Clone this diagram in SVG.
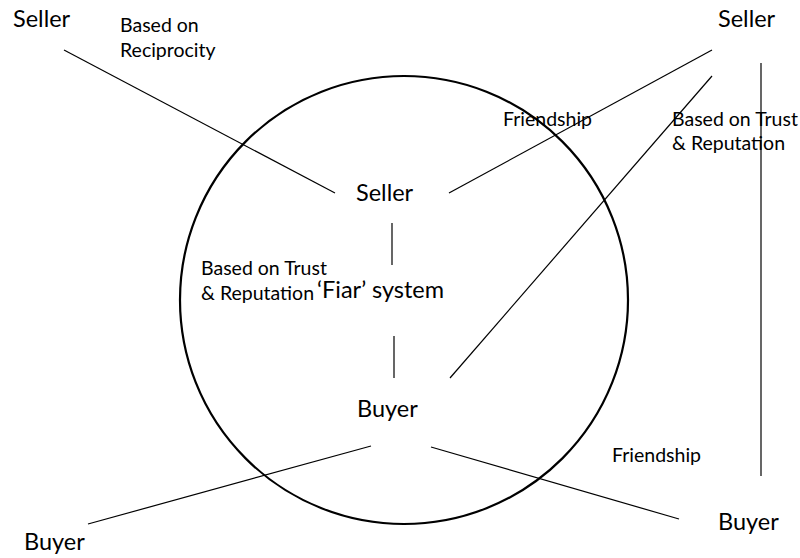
<svg xmlns="http://www.w3.org/2000/svg" width="800" height="558" viewBox="0 0 800 558">
  <style>
    .big { font-family: Lato, "Noto Sans", sans-serif; font-size: 23.5px; fill: #000; }
    .small { font-family: Lato, "Noto Sans", sans-serif; font-size: 19.5px; fill: #000; }
    .conn line { stroke: #000; stroke-width: 1.2; }
  </style>
  <rect width="800" height="558" fill="#fff"/>

  <!-- the 'Fiar' system boundary -->
  <g id="system">
    <circle cx="404" cy="300" r="224" fill="none" stroke="#000" stroke-width="2.2"/>
    <text class="big" x="317" y="298">‘Fiar’ system</text>
  </g>

  <!-- connectors -->
  <g class="conn" id="connectors">
    <line x1="64" y1="50" x2="335" y2="193"/>
    <line x1="449" y1="193" x2="712" y2="50"/>
    <line x1="712" y1="76" x2="450" y2="378"/>
    <line x1="761" y1="63" x2="761" y2="476"/>
    <line x1="392" y1="223" x2="392" y2="265"/>
    <line x1="394" y1="336" x2="394" y2="378"/>
    <line x1="371" y1="446" x2="88" y2="524"/>
    <line x1="431" y1="447" x2="679" y2="519"/>
  </g>

  <!-- nodes -->
  <g id="seller-top-left"><text class="big" x="13" y="27">Seller</text></g>
  <g id="seller-top-right"><text class="big" x="718" y="27">Seller</text></g>
  <g id="seller-center"><text class="big" x="356" y="201">Seller</text></g>
  <g id="buyer-center"><text class="big" x="357" y="417">Buyer</text></g>
  <g id="buyer-bottom-left"><text class="big" x="24" y="550">Buyer</text></g>
  <g id="buyer-bottom-right"><text class="big" x="718" y="530">Buyer</text></g>

  <!-- connector labels -->
  <g id="labels">
    <text class="small" x="120" y="32">Based on</text>
    <text class="small" x="120" y="57">Reciprocity</text>
    <text class="small" x="503" y="126">Friendship</text>
    <text class="small" x="672" y="126">Based on Trust</text>
    <text class="small" x="672" y="150">&amp; Reputation</text>
    <text class="small" x="201" y="275">Based on Trust</text>
    <text class="small" x="201" y="300">&amp; Reputation</text>
    <text class="small" x="612" y="462">Friendship</text>
  </g>
</svg>
